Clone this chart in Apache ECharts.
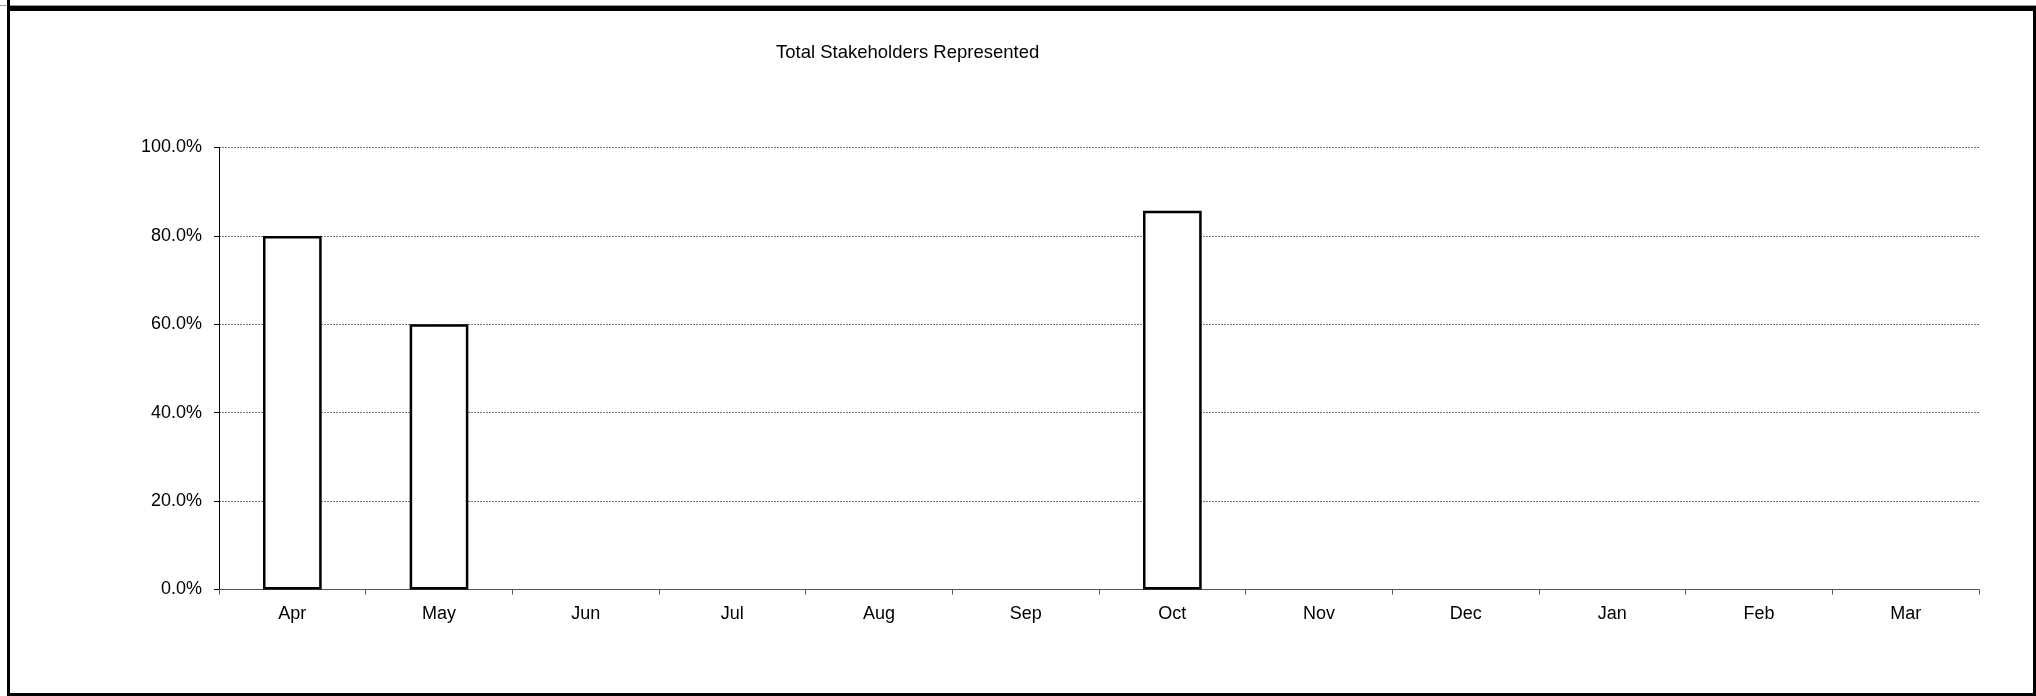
<!DOCTYPE html>
<html>
<head>
<meta charset="utf-8">
<title>Total Stakeholders Represented</title>
<script src="https://cdn.jsdelivr.net/npm/echarts@6/dist/echarts.min.js"></script>
<style>
  html, body { margin: 0; padding: 0; background: #fff; }
  #chart { width: 2036px; height: 696px; }
</style>
</head>
<body>
<div id="chart"></div>
<script>
// Monthly share of stakeholders represented (financial year Apr–Mar)
const months = ['Apr', 'May', 'Jun', 'Jul', 'Aug', 'Sep', 'Oct', 'Nov', 'Dec', 'Jan', 'Feb', 'Mar'];
const represented = [0.8, 0.6, null, null, null, null, 0.857, null, null, null, null, null];
const chartTitle = 'Total Stakeholders Represented';

const FONT = '"Liberation Sans", Arial, sans-serif';

const chart = echarts.init(document.getElementById('chart'), null, { renderer: 'canvas' });

chart.setOption({
  backgroundColor: '#ffffff',
  animation: false,
  title: {
    text: chartTitle,
    left: 776,
    top: 43,
    padding: 0,
    textStyle: { fontFamily: FONT, fontSize: 18.5, fontWeight: 'normal', color: '#000' }
  },
  grid: {
    left: 219,
    right: 57,
    top: 147.5,
    bottom: 106.5,
    containLabel: false
  },
  xAxis: {
    type: 'category',
    data: months,
    boundaryGap: true,
    axisLine: { show: true, lineStyle: { color: '#555', width: 1 } },
    axisTick: { show: true, inside: false, length: 5, alignWithLabel: false, lineStyle: { color: '#555', width: 1 } },
    axisLabel: { fontFamily: FONT, fontSize: 18, color: '#000', margin: 16 },
    splitLine: { show: false }
  },
  yAxis: {
    type: 'value',
    min: 0,
    max: 1,
    interval: 0.2,
    axisLine: { show: true, lineStyle: { color: '#000', width: 1 } },
    axisTick: { show: true, inside: false, length: 5, lineStyle: { color: '#000', width: 1 } },
    axisLabel: {
      fontFamily: FONT, fontSize: 18, color: '#000', margin: 17,
      padding: [6, 0, 0, 0],
      formatter: v => (v * 100).toFixed(1) + '%'
    },
    splitLine: { show: true, lineStyle: { color: '#777', width: 1, type: [2, 1] } }
  },
  series: [{
    type: 'bar',
    data: represented,
    barWidth: '40%',
    itemStyle: { color: '#ffffff', borderColor: '#000', borderWidth: 2.5 },
    emphasis: { disabled: true }
  }],
  graphic: [
    // outer frame
    { type: 'rect', shape: { x: 0, y: 5, width: 2036, height: 1 }, style: { fill: '#9a9a9a' }, silent: true },
    { type: 'rect', shape: { x: 7, y: 6, width: 2029, height: 5 }, style: { fill: '#000' }, silent: true },
    { type: 'rect', shape: { x: 7, y: 0, width: 3, height: 696 }, style: { fill: '#000' }, silent: true },
    { type: 'rect', shape: { x: 2033, y: 6, width: 3, height: 690 }, style: { fill: '#000' }, silent: true },
    { type: 'rect', shape: { x: 7, y: 693, width: 2029, height: 3 }, style: { fill: '#000' }, silent: true }
  ]
});
</script>
</body>
</html>
